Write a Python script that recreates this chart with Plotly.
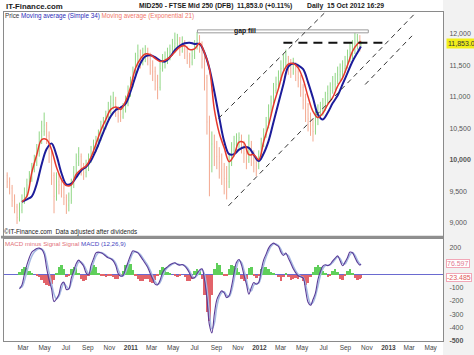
import plotly.graph_objects as go
import pandas as pd

# ---------------- data ----------------
first_open = 9750
closes = [9650, 9550, 9350, 9250, 9080, 9200, 9350, 9450, 9600, 9700,
 9850, 9950, 10100, 10300, 10450, 10550, 10380, 10100, 9750, 9420,
 9650, 9600, 9550, 9400, 9280, 9350, 9600, 9800, 9950, 10050,
 9850, 9800, 9900, 10000, 10100, 10200, 10250, 10350, 10500, 10550,
 10650, 10800, 10900, 10950, 10800, 10700, 10680, 10800, 10900, 11050,
 11200, 11350, 11550, 11650, 11600, 11650, 11700, 11650, 11500, 11400,
 11250, 11150, 11450, 11550, 11600, 11650, 11700, 11800, 11850, 11900,
 11800, 11850, 11750, 11650, 11550, 11650, 11800, 11900, 11850, 11600,
 11300, 10600, 9900, 10250, 10200, 10050, 9950, 9850, 9700, 9650,
 10000, 10150, 10250, 10300, 10350, 10250, 10100, 10000, 10200, 10050,
 9950, 9900, 10050, 10250, 10400, 10550, 10750, 10900, 11100, 11200,
 11300, 11450, 11550, 11600, 11500, 11450, 11500, 11400, 11300, 11150,
 10950, 10800, 10650, 10550, 10450, 10650, 10750, 10800, 10850, 10950,
 11050, 11100, 11200, 11250, 11350, 11400, 11450, 11500, 11600, 11700,
 11750, 11850, 11900, 11830, 11853]
highs = [9800, 9720, 9600, 9450, 9300, 9320, 9450, 9560, 9700, 9820,
 9950, 10080, 10250, 10450, 10620, 10750, 10600, 10450, 10150, 9800,
 9800, 9780, 9700, 9620, 9450, 9480, 9700, 9900, 10100, 10200,
 10100, 9950, 10000, 10100, 10220, 10320, 10380, 10480, 10620, 10680,
 10780, 10920, 11020, 11080, 11000, 10850, 10800, 10900, 11020, 11180,
 11320, 11480, 11700, 11830, 11750, 11780, 11820, 11780, 11700, 11580,
 11480, 11350, 11550, 11680, 11720, 11780, 11830, 11920, 12020, 12000,
 11950, 11960, 11900, 11800, 11700, 11750, 11900, 12030, 11980, 11880,
 11650, 11350, 10700, 10450, 10400, 10300, 10200, 10100, 9950, 9900,
 10100, 10280, 10380, 10420, 10435, 10400, 10300, 10200, 10400, 10300,
 10150, 10050, 10150, 10350, 10500, 10680, 10880, 11020, 11220, 11320,
 11420, 11580, 11680, 11750, 11650, 11600, 11620, 11550, 11480, 11350,
 11200, 11050, 10900, 10750, 10650, 10780, 10880, 10920, 10980, 11080,
 11180, 11230, 11330, 11380, 11480, 11530, 11580, 11650, 11750, 11850,
 11900, 12015, 12000, 11980, 11890]
lows = [9550, 9450, 9250, 9150, 8980, 9020, 9150, 9300, 9400, 9550,
 9650, 9800, 9900, 10050, 10250, 10380, 10250, 9950, 9600, 9150,
 9350, 9450, 9400, 9280, 9140, 9180, 9300, 9550, 9750, 9900,
 9750, 9680, 9720, 9820, 9950, 10050, 10120, 10200, 10300, 10420,
 10480, 10600, 10720, 10800, 10680, 10590, 10600, 10650, 10750, 10850,
 11000, 11150, 11300, 11480, 11450, 11500, 11550, 11500, 11350, 11250,
 11100, 10960, 11100, 11400, 11450, 11520, 11580, 11650, 11700, 11750,
 11650, 11700, 11600, 11520, 11460, 11500, 11600, 11750, 11700, 11450,
 11100, 10400, 9420, 9800, 9900, 9850, 9700, 9600, 9450, 9370,
 9550, 9900, 10050, 10150, 10180, 10100, 9950, 9850, 9950, 9900,
 9800, 9740, 9850, 10000, 10200, 10350, 10500, 10700, 10850, 11050,
 11150, 11250, 11400, 11450, 11350, 11300, 11350, 11250, 11150, 11000,
 10800, 10600, 10450, 10380, 10290, 10400, 10550, 10650, 10700, 10780,
 10880, 10950, 11050, 11100, 11200, 11250, 11300, 11380, 11450, 11550,
 11600, 11680, 11750, 11720, 11800]

sma34 = [9330, 9370, 9420, 9620, 9930, 10170, 10260, 10070, 9790, 9610,
 9620, 9720, 9830, 9890, 9990, 10150, 10340, 10530, 10690, 10790,
 10830, 10890, 11080, 11320, 11530, 11640, 11660, 11630, 11575, 11560,
 11630, 11740, 11810, 11850, 11860, 11840, 11840, 11700, 11450, 11080,
 10670, 10290, 10090, 10090, 10160, 10200, 10190, 10080, 9980, 10100,
 10300, 10600, 10900, 11200, 11480, 11530, 11500, 11440, 11230, 10980,
 10720, 10640, 10750, 10900, 11020, 11200, 11380, 11560, 11700, 11800]
ema21 = [9330, 9420, 9800, 10080, 10320, 10320, 10160, 9880, 9690, 9590,
 9600, 9770, 9850, 9900, 10040, 10250, 10470, 10640, 10800, 10840,
 10800, 10930, 11150, 11450, 11600, 11680, 11670, 11610, 11560, 11580,
 11630, 11710, 11790, 11810, 11750, 11760, 11850, 11700, 11450, 10800,
 10420, 10190, 9970, 10070, 10280, 10270, 10080, 10080, 10000, 10290,
 10550, 10870, 11130, 11400, 11520, 11530, 11460, 11280, 11000, 10770,
 10670, 10740, 10880, 10990, 11170, 11300, 11500, 11720, 11840, 11880]

macd = [-110, -80, 0, 70, 125, 165, 180, 192, 195, 185,
 150, 45, -45, -110, -205, -185, -150, -75, -60, -115,
 -110, -30, 25, 80, 105, 85, 60, 10, -5, 65,
 115, 159, 165, 160, 150, 135, 122, 115, 100, 65,
 5, -15, -10, 40, 90, 140, 175, 168, 159, 135,
 108, 80, 50, 5, -35, -75, -80, -45, 10, 40,
 55, 70, 80, 85, 72, 68, 72, 60, 38, 5,
 -30, -25, 5, 30, 40, -40, -180, -380, -440, -300,
 -190, -150, -125, -140, -175, -160, -90, 10, 90, 110,
 70, -5, -75, -150, -100, -63, -75, -60, 30, 107,
 150, 195, 220, 232, 220, 208, 165, 140, 158, 120,
 82, 40, 10, -12, -20, -28, -120, -210, -233, -190,
 -140, -40, 20, 60, 70, 64, 75, 100, 120, 137,
 100, 63, 90, 125, 165, 160, 125, 88, 68, 76.6]
signal = [-100, -95, -50, 20, 85, 135, 165, 182, 190, 188,
 168, 100, 10, -70, -150, -185, -165, -110, -70, -90,
 -110, -65, -5, 50, 90, 92, 72, 35, 5, 30,
 88, 135, 160, 162, 155, 142, 128, 118, 107, 82,
 35, -5, -12, 15, 65, 115, 158, 170, 163, 147,
 122, 94, 65, 28, -15, -55, -78, -62, -18, 25,
 48, 62, 75, 82, 78, 70, 70, 66, 50, 22,
 -12, -28, -10, 18, 35, 0, -110, -280, -410, -370,
 -245, -170, -138, -132, -158, -168, -125, -40, 50, 100,
 90, 32, -40, -112, -125, -82, -70, -68, -15, 68,
 128, 172, 208, 226, 226, 214, 186, 152, 149, 139,
 101, 61, 25, -1, -16, -24, -74, -165, -222, -212,
 -165, -90, -10, 40, 65, 67, 70, 88, 110, 128,
 118, 82, 77, 108, 145, 162, 142, 106, 78, 70]
hist = [20, 45, 55, 50, 25, 5, 0, -5, -15, -40,
 -65, -80, -85, -70, -40, 15, 55, 70, 45, -20,
 -10, 40, 60, 50, 15, -30, -50, -40, -10, 45,
 70, 55, 15, -5, -10, -15, -10, -5, -15, -35,
 -30, -10, 30, 70, 90, 80, 35, -10, -35, -50,
 -45, -30, -35, -55, -60, -40, -10, 35, 60, 50,
 20, 5, 0, -10, -15, -5, 0, -20, -45, -50,
 -30, 25, 40, 30, -30, -150, -280, -350, -150, 40,
 90, 70, 20, -10, -5, 40, 70, 65, 50, 20,
 -30, -45, -35, 50, 55, -10, -25, -10, 40, 60,
 55, 40, 20, 10, 0, -15, -45, -20, 5, -20,
 -40, -35, -25, -30, -15, -50, -78, -60, -20, 20,
 60, 70, 55, 30, 10, -20, -5, 25, 40, 20,
 -35, -40, -10, 30, 40, 15, -25, -40, -30, -23]

price_ticks = [12000, 11500, 11000, 10500, 10000, 9500, 9000]
price_ticktext = ["12,000", "11,500", "11,000", "10,500", "<b>10,000</b>", "9,500", "9,000"]
macd_ticks = [200, -100, -200, -300, -400, -500]
macd_ticktext = ["200", "-100", "-200", "-300", "-400", "<b>-500</b>"]
month_ticks = pd.date_range("2010-03-01", "2013-05-01", freq="2MS")
month_text = [f"<b>{d.year}</b>" if d.month == 1 else d.strftime("%b") for d in month_ticks]

# trend lines / annotations (date, value)
line1 = (["2011-09-07", "2012-07-15"], [10658, 12395])
line2 = (["2011-10-05", "2013-03-27"], [9268, 12379])
line3 = (["2012-10-27", "2013-03-09"], [11195, 11968])
hline = (["2012-03-09", "2012-12-29"], [11858, 11858])
gapbox = (["2011-07-09", "2012-11-05"], [12016, 12063])
last_price = 11853.0

# ---------------- dates ----------------
weekly = list(pd.date_range("2010-01-15", periods=144, freq="7D"))
all_dates = weekly + [pd.Timestamp("2012-10-15")]
opens = [first_open] + closes[:-1]
ma_dates = weekly[6::2] + [pd.Timestamp("2012-10-15")]
macd_dates = all_dates[5:]

# ---------------- layout helpers ----------------
W, H = 474, 355
L, R, T, B = 3, 31, 12, 12
def px(x): return (x - L) / (W - L - R)
def py(y): return (H - B - y) / (H - T - B)

FONT = "Liberation Sans, Arial, sans-serif"
fig = go.Figure()

fig.add_trace(go.Ohlc(x=all_dates, open=opens, high=highs, low=lows, close=closes,
    increasing=dict(line=dict(color="#8fd684", width=1)),
    decreasing=dict(line=dict(color="#f3a88f", width=1)),
    tickwidth=0.25, xaxis="x", yaxis="y", showlegend=False, hoverinfo="skip"))
fig.add_trace(go.Scatter(x=ma_dates, y=sma34, mode="lines", xaxis="x", yaxis="y",
    line=dict(color="#1c1c9a", width=2, shape="spline"), showlegend=False))
fig.add_trace(go.Scatter(x=ma_dates, y=ema21, mode="lines", xaxis="x", yaxis="y",
    line=dict(color="#e6392c", width=1.5, shape="spline"), showlegend=False))

fig.add_trace(go.Bar(x=macd_dates, y=hist, xaxis="x2", yaxis="y2",
    marker=dict(color=["#5fcf5a" if v >= 0 else "#e2636a" for v in hist], line=dict(width=0)),
    width=7 * 86400000, showlegend=False))
fig.add_trace(go.Scatter(x=macd_dates, y=signal, mode="lines", xaxis="x2", yaxis="y2",
    line=dict(color="#a5b8e2", width=1.5, shape="spline"), showlegend=False))
fig.add_trace(go.Scatter(x=macd_dates, y=macd, mode="lines", xaxis="x2", yaxis="y2",
    line=dict(color="#5a3c98", width=1.1, shape="spline"), showlegend=False))

xr = ["2010-01-06", "2013-06-05"]
axis_common = dict(showline=True, linecolor="#8a8a8a", linewidth=1, mirror=True,
                   showgrid=False, zeroline=False, ticks="")
fig.update_layout(
    width=W, height=H, margin=dict(l=L, r=R, t=T, b=B),
    paper_bgcolor="white", plot_bgcolor="white", bargap=0,
    font=dict(family=FONT, size=7, color="#444"),
    xaxis=dict(domain=[0, 1], anchor="y", range=xr, showticklabels=False,
               rangeslider=dict(visible=False), **axis_common),
    yaxis=dict(domain=[py(238), 1], anchor="x", side="right", range=[8779, 12347],
               tickvals=price_ticks, ticktext=price_ticktext, ticklabelstandoff=4,
               tickfont=dict(size=7, color="#555"), **axis_common),
    xaxis2=dict(domain=[0, 1], anchor="y2", matches="x", range=xr,
                tickvals=month_ticks, ticktext=month_text,
                tickfont=dict(size=6.5, color="#444"), **axis_common),
    yaxis2=dict(domain=[0, py(240)], anchor="x2", side="right", range=[-500, 266],
                tickvals=macd_ticks, ticktext=macd_ticktext, ticklabelstandoff=4,
                tickfont=dict(size=7, color="#555"),
                **{k: v for k, v in axis_common.items() if k != "zeroline"},
                zeroline=True, zerolinecolor="#6a6ad0", zerolinewidth=1),
)

shapes = [
    dict(type="rect", xref="paper", yref="paper", x0=1.0, x1=px(W + 2), y0=py(H + 2), y1=py(-2),
         fillcolor="#f2f2f2", line=dict(width=0), layer="below"),
    dict(type="rect", xref="paper", yref="paper", x0=px(0), x1=1, y0=py(240), y1=py(237),
         fillcolor="#8f8f8f", line=dict(width=0)),
    dict(type="rect", xref="x", yref="y", x0=gapbox[0][0], x1=gapbox[0][1],
         y0=gapbox[1][0], y1=gapbox[1][1], fillcolor="white", line=dict(color="#9a9a9a", width=1)),
]
for ln in (line1, line2, line3):
    shapes.append(dict(type="line", xref="x", yref="y", x0=ln[0][0], x1=ln[0][1],
                       y0=ln[1][0], y1=ln[1][1], line=dict(color="#333", width=1, dash="5px,4px")))
shapes.append(dict(type="line", xref="x", yref="y", x0=hline[0][0], x1=hline[0][1],
                   y0=hline[1][0], y1=hline[1][1], line=dict(color="#111", width=2, dash="9px,6px")))
fig.update_layout(shapes=shapes)

ann = []
def txt(x, y, s, size=7, color="#222", anchor="left", **kw):
    ann.append(dict(xref="paper", yref="paper", x=px(x), y=py(y), text=s, showarrow=False,
                    xanchor=anchor, yanchor="middle", xshift=0, borderpad=0,
                    font=dict(family=FONT, size=size, color=color), **kw))

txt(4, 6, "<b>IT-Finance.com</b>", size=7.8, color="#1a1a1a")
txt(137, 6, "<b>MID250 - FTSE Mid 250 (DFB)</b>", size=6.8, color="#1a1a1a")
txt(236, 6, "<b>11,853.0 (+0.11%)</b>", size=6.8, color="#1a1a1a")
txt(306, 6, "<b>Daily  15 Oct 2012 16:29</b>", size=6.8, color="#1a1a1a")
txt(3, 16.5, "Price <span style='color:#2b2bb8'>Moving average (Simple 34)</span> "
           "<span style='color:#f0786a'>Moving average (Exponential 21)</span>", size=6.3, color="#333")
txt(2, 233, "©IT-Finance.com  Data adjusted after dividends", size=6.3, color="#222")
txt(3, 245, "<span style='color:#e2717a'>MACD minus Signal Signal</span> "
            "<span style='color:#4646c0'>MACD (12,26,9)</span>", size=6.2)

ann.append(dict(xref="x", yref="y", x="2011-11-20", y=12038, text="<b>gap fill</b>",
                showarrow=False, font=dict(family=FONT, size=6.8, color="#111")))
ann.append(dict(xref="paper", yref="y", x=px(446), y=last_price, text="11,853.0",
                showarrow=False, xanchor="left", yanchor="middle", bgcolor="#f2ef1a",
                borderpad=1, font=dict(family=FONT, size=7, color="#333")))
ann.append(dict(xref="paper", yref="y2", x=px(446), y=macd[-1], text="76.597",
                showarrow=False, xanchor="left", yanchor="middle", bgcolor="white",
                bordercolor="#f2a7b7", borderwidth=1, borderpad=0,
                font=dict(family=FONT, size=7, color="#e27a92")))
ann.append(dict(xref="paper", yref="y2", x=px(446), y=hist[-1] - 2, text="-23.485",
                showarrow=False, xanchor="left", yanchor="middle", bgcolor="white",
                bordercolor="#f2a7b7", borderwidth=1, borderpad=0,
                font=dict(family=FONT, size=7, color="#e05a5a")))
fig.update_layout(annotations=ann)

fig.write_html("out.html")
